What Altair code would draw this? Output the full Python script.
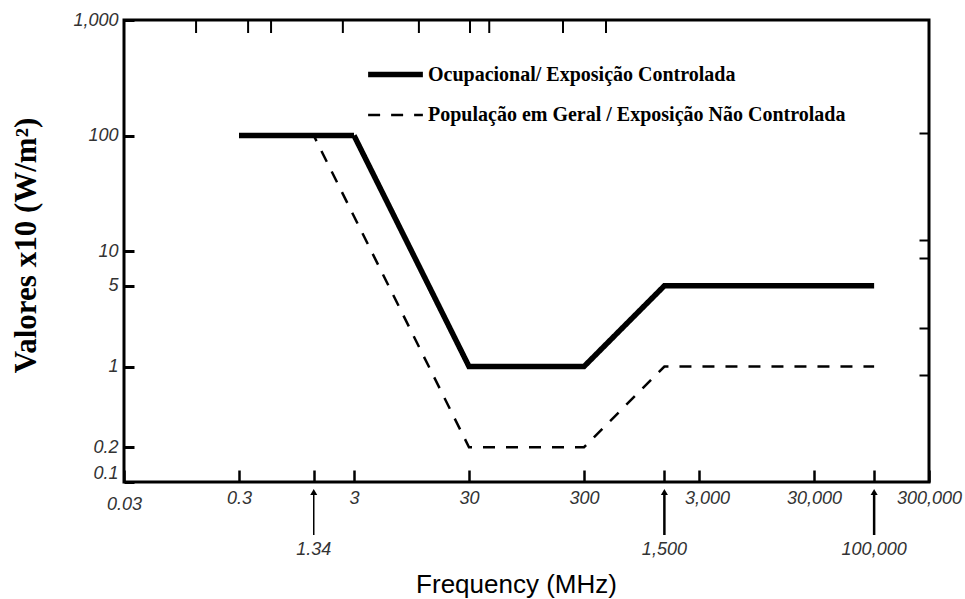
import altair as alt
import pandas as pd

occ_name = "Ocupacional/ Exposição Controlada"
pop_name = "População em Geral / Exposição Não Controlada"

occ_freq = [0.3, 3, 30, 300, 1500, 100000]
occ_vals = [100, 100, 1, 1, 5, 5]
pop_freq = [0.3, 1.34, 30, 300, 1500, 100000]
pop_vals = [100, 100, 0.2, 0.2, 1, 1]

x_ticks = [0.03, 0.3, 1.34, 3, 30, 300, 1500, 3000, 30000, 100000, 300000]
x_tick_labels = ["0.03", "0.3", "", "3", "30", "300", "", "3,000", "30,000", "", "300,000"]
y_ticks = [0.1, 0.2, 1, 5, 10, 100, 1000]
y_tick_labels = ["0.1", "0.2", "1", "5", "10", "100", "1,000"]
top_ticks = [0.127, 0.36, 0.57, 2.4, 11, 30.6, 45, 197, 466]
right_ticks = [105, 12.5, 8.7, 2.15, 0.84]

arrow_freqs = [1.34, 1500, 100000]
arrow_labels = ["1.34", "1,500", "100,000"]

W, H = 805, 462


def label_expr(vals, labels):
    s = "".join(f"datum.value == {v} ? '{l}' : " for v, l in zip(vals, labels))
    return s + "''"


df = pd.DataFrame({
    "freq": occ_freq + pop_freq,
    "val": occ_vals + pop_vals,
    "series": [occ_name] * len(occ_freq) + [pop_name] * len(pop_freq),
    "order": list(range(len(occ_freq))) + list(range(len(pop_freq))),
})
arrows_df = pd.DataFrame({"freq": arrow_freqs, "label": arrow_labels})
top_df = pd.DataFrame({"tfreq": top_ticks})

xscale = alt.Scale(type="log", domain=[0.03, 300000], nice=False)
yscale = alt.Scale(type="log", domain=[0.1, 1000], nice=False)
series_domain = [occ_name, pop_name]

legend = alt.Legend(
    title=None, orient="none", legendX=241, legendY=24,
    symbolType="stroke", symbolSize=3000,
    labelFont="Liberation Serif", labelFontWeight="bold", labelFontSize=20,
    labelColor="black", labelLimit=700, rowPadding=-18, padding=0, labelOffset=2,
)

x_axis = alt.Axis(
    orient="bottom", values=x_ticks, labelExpr=label_expr(x_ticks, x_tick_labels),
    offset=-12, tickSize=12, tickWidth=2.5, tickColor="black", domain=False, grid=False,
    labelFont="Liberation Sans", labelFontStyle="italic", labelFontSize=18, labelColor="#333",
    labelPadding={"condition": {"test": "datum.value < 0.1", "value": 13}, "value": 7},
    labelOffset={"condition": {"test": "datum.value == 3000", "value": 8}, "value": 0},
    labelFlush=False, labelOverlap=False,
    title="Frequency (MHz)", titleFont="Liberation Sans", titleFontSize=26,
    titleFontWeight="normal", titleColor="black", titleX=392, titleY=114,
    titleBaseline="middle", titleAlign="center",
)
y_axis = alt.Axis(
    orient="left", values=y_ticks, labelExpr=label_expr(y_ticks, y_tick_labels),
    offset=-10, tickSize=10, tickWidth=3, tickColor="black", domain=False, grid=False,
    labelFont="Liberation Sans", labelFontStyle="italic", labelFontSize=18, labelColor="#333",
    labelPadding=6,
    labelOffset={"condition": {"test": "datum.value == 0.1", "value": -9}, "value": 0},
    labelFlush=False, labelOverlap=False,
    title="Valores x10 (W/m²)", titleFont="Liberation Serif", titleFontSize=31,
    titleFontWeight="bold", titleColor="black", titleAngle=270, titleX=-108, titleY=225,
    titleBaseline="middle", titleAlign="center",
)

lines = alt.Chart(df).mark_line(strokeCap="butt").encode(
    x=alt.X("freq:Q", scale=xscale, axis=x_axis),
    y=alt.Y("val:Q", scale=yscale, axis=y_axis),
    order=alt.Order("order:Q"),
    color=alt.Color("series:N", scale=alt.Scale(domain=series_domain, range=["black", "black"]), legend=legend),
    strokeDash=alt.StrokeDash("series:N", scale=alt.Scale(domain=series_domain, range=[[1, 0], [12, 11]]), legend=legend),
    strokeWidth=alt.StrokeWidth("series:N", scale=alt.Scale(domain=series_domain, range=[5.5, 2.5]), legend=legend),
)

right_axis_layer = alt.Chart(df).mark_point(opacity=0).encode(
    x=alt.X("freq:Q", scale=xscale, axis=None),
    y=alt.Y("val:Q", scale=yscale, axis=alt.Axis(
        orient="right", values=right_ticks, labels=False, title=None, offset=-10, tickSize=10,
        tickWidth=2, tickColor="black", domain=False, grid=False, zindex=2)),
)

top_tick_marks = alt.Chart(top_df).mark_tick(
    color="black", thickness=2, size=13, orient="vertical", opacity=1
).encode(
    x=alt.X("tfreq:Q", scale=xscale, axis=None), y=alt.value(6.5),
)

arrow_x = alt.X("freq:Q", scale=xscale, axis=None)
shafts = alt.Chart(arrows_df).mark_rule(color="black").encode(
    x=arrow_x, y=alt.value(H + 10), y2=alt.value(H + 53),
    strokeWidth=alt.condition("datum.freq < 10", alt.value(1.5), alt.value(2.5)),
)
heads = alt.Chart(arrows_df).mark_point(shape="triangle-up", filled=True, color="black", size=50, opacity=1).encode(
    x=arrow_x, y=alt.value(H + 10),
)
arrow_text = alt.Chart(arrows_df).mark_text(
    font="Liberation Sans", fontStyle="italic", fontSize=18, color="#333", baseline="middle"
).encode(x=arrow_x, y=alt.value(H + 68), text="label:N")

chart = alt.layer(lines, right_axis_layer, top_tick_marks, shafts, heads, arrow_text).resolve_axis(
    x="independent", y="independent"
).properties(
    width=W, height=H,
    padding={"left": 124, "top": 20, "right": 36, "bottom": 117},
    autosize=alt.AutoSizeParams(type="none"),
    background="white",
).configure_view(stroke="black", strokeWidth=3)

chart.save("out.html", embed_options={"renderer": "svg", "actions": False})
